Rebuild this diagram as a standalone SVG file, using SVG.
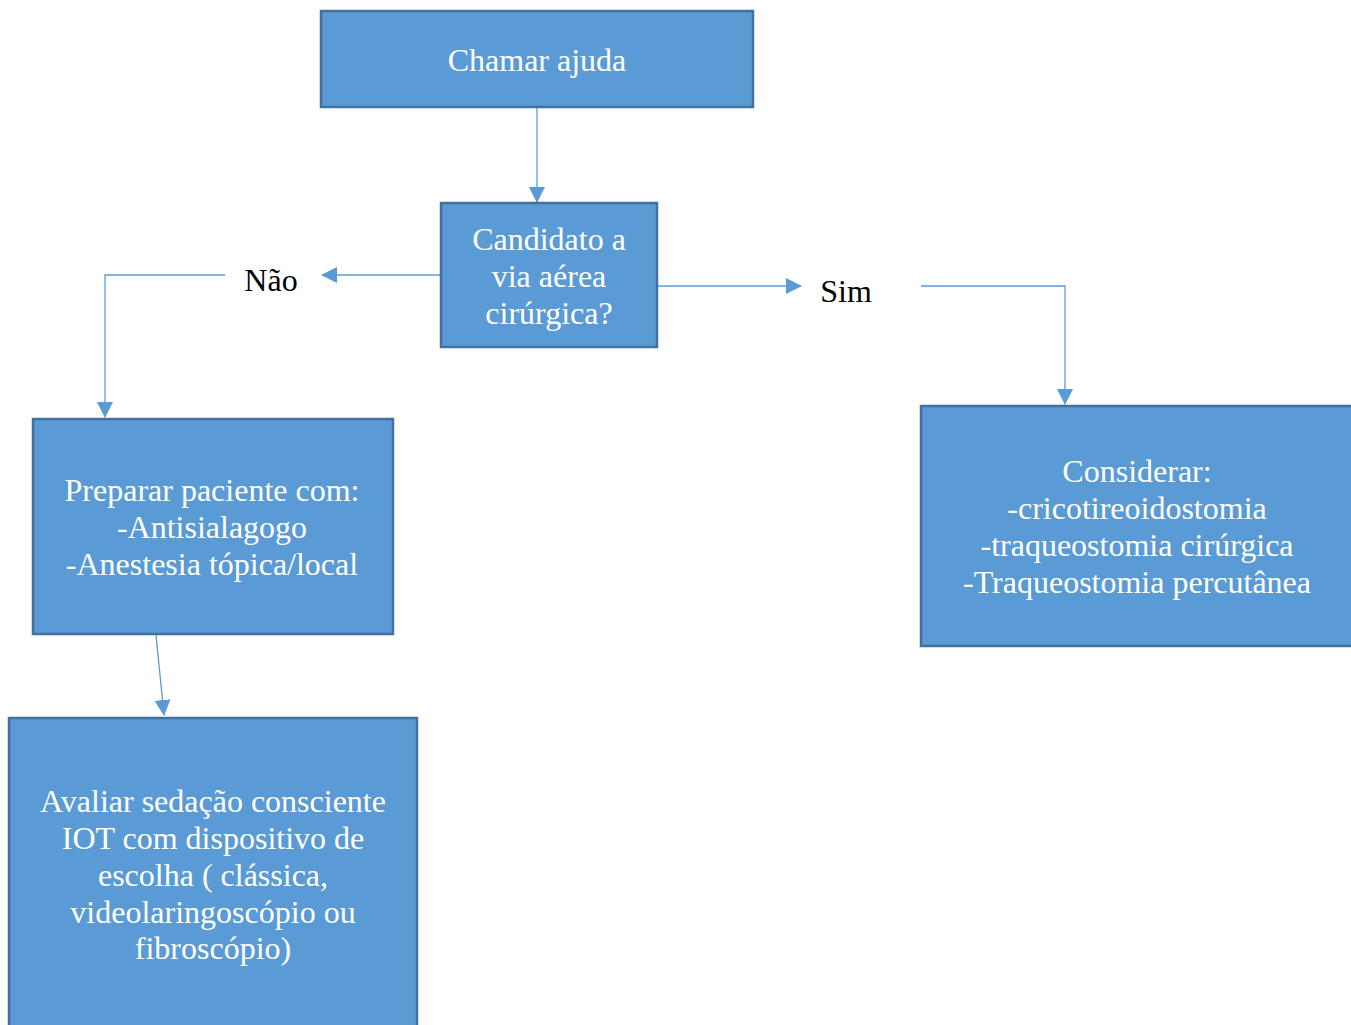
<svg xmlns="http://www.w3.org/2000/svg" width="1351" height="1025" viewBox="0 0 1351 1025">
<style>
.box{fill:#5B9BD5;stroke:#41719C;stroke-width:2.5}
.t{font-family:"Liberation Serif","Times New Roman",serif;font-size:32px;fill:#fff;text-anchor:middle}
.lbl{font-family:"Liberation Serif","Times New Roman",serif;font-size:32px;fill:#000;text-anchor:middle}
.c{fill:none;stroke:#5B9BD5;stroke-width:1.3}
</style>
<defs>
<marker id="ah" markerUnits="userSpaceOnUse" markerWidth="16" markerHeight="16" viewBox="0 0 16 16" refX="15" refY="8" orient="auto">
<path d="M0,0 L16,8 L0,16 Z" fill="#5B9BD5"/>
</marker>
</defs>
<rect width="1351" height="1025" fill="#fff"/>
<g id="connectors">
<path class="c" d="M537,108 L537,202" marker-end="url(#ah)"/>
<path class="c" d="M440,275 L322,275" marker-end="url(#ah)"/>
<path class="c" d="M225,275 L105,275 L105,417" marker-end="url(#ah)"/>
<path class="c" d="M658,286 L801,286" marker-end="url(#ah)"/>
<path class="c" d="M921,286 L1065,286 L1065,404" marker-end="url(#ah)"/>
<path class="c" d="M156,635 L164,715" marker-end="url(#ah)"/>
<text class="lbl" x="271" y="291">Não</text>
<text class="lbl" x="846" y="302">Sim</text>
</g>
<g id="n1">
<rect class="box" x="321" y="11" width="432" height="96"/>
<text class="t" x="537" y="71">Chamar ajuda</text>
</g>
<g id="n2">
<rect class="box" x="441" y="203" width="216" height="144"/>
<text class="t" x="549" y="250">Candidato a</text>
<text class="t" x="549" y="287">via aérea</text>
<text class="t" x="549" y="324">cirúrgica?</text>
</g>
<g id="n3">
<rect class="box" x="33" y="419" width="360" height="215"/>
<text class="t" x="212" y="501">Preparar paciente com:</text>
<text class="t" x="212" y="538">-Antisialagogo</text>
<text class="t" x="212" y="575">-Anestesia tópica/local</text>
</g>
<g id="n4">
<rect class="box" x="9" y="718" width="408" height="320"/>
<text class="t" x="213" y="812">Avaliar sedação consciente</text>
<text class="t" x="213" y="849">IOT com dispositivo de</text>
<text class="t" x="213" y="886">escolha ( clássica,</text>
<text class="t" x="213" y="923">videolaringoscópio ou</text>
<text class="t" x="213" y="959">fibroscópio)</text>
</g>
<g id="n5">
<rect class="box" x="921" y="406" width="440" height="240"/>
<text class="t" x="1137" y="482">Considerar:</text>
<text class="t" x="1137" y="519">-cricotireoidostomia</text>
<text class="t" x="1137" y="556">-traqueostomia cirúrgica</text>
<text class="t" x="1137" y="593">-Traqueostomia percutânea</text>
</g>
</svg>
